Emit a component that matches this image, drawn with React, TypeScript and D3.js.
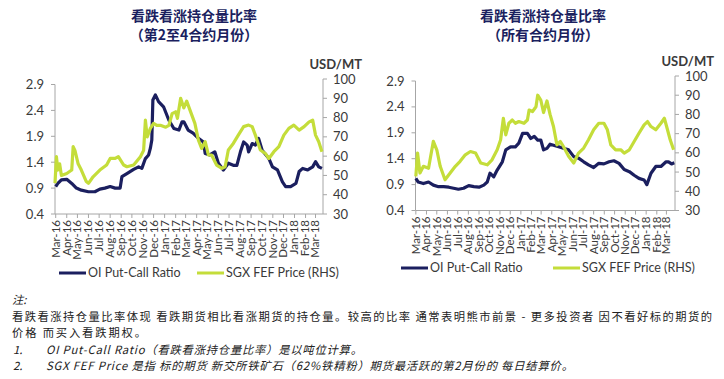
import React from "react";
import * as d3 from "d3";

// ---------- data ----------
const monthLabels = [
  "Mar-16","Apr-16","May-16","Jun-16","Jul-16","Aug-16","Sep-16","Oct-16","Nov-16","Dec-16",
  "Jan-17","Feb-17","Mar-17","Apr-17","May-17","Jun-17","Jul-17","Aug-17","Sep-17","Oct-17",
  "Nov-17","Dec-17","Jan-18","Feb-18","Mar-18",
];
const leftTicks = [0.4, 0.9, 1.4, 1.9, 2.4, 2.9];
const rightTicks = [30, 40, 50, 60, 70, 80, 90, 100];

const titleMain = "看跌看涨持仓量比率";
const titleSubLeft = "（第2至4合约月份）";
const titleSubRight = "（所有合约月份）";
const seriesNames = ["OI Put-Call Ratio", "SGX FEF Price (RHS)"];

// OI put-call ratio, 2nd-4th contract months
const pcrNear: [string, number][] = [
  ["2016-03-01",0.93],["2016-03-07",0.99],["2016-03-17",1.06],["2016-04-01",1.07],["2016-04-15",0.99],
  ["2016-04-28",0.9],["2016-05-12",0.86],["2016-06-01",0.83],["2016-06-19",0.83],["2016-07-03",0.88],
  ["2016-07-17",0.9],["2016-08-01",0.93],["2016-08-15",0.9],["2016-08-29",0.9],["2016-09-03",1.12],
  ["2016-09-17",1.18],["2016-10-06",1.26],["2016-10-20",1.31],["2016-10-29",1.28],["2016-11-08",1.47],
  ["2016-11-17",1.54],["2016-11-22",1.67],["2016-11-26",1.83],["2016-11-29",2.6],["2016-12-06",2.7],
  ["2016-12-15",2.57],["2016-12-29",2.47],["2017-01-13",2.21],["2017-01-27",2.05],["2017-02-10",2.02],
  ["2017-02-19",2.18],["2017-02-24",2.18],["2017-03-08",2.02],["2017-03-22",1.96],["2017-04-06",1.86],
  ["2017-04-20",1.79],["2017-04-25",1.57],["2017-05-08",1.54],["2017-05-22",1.6],["2017-06-01",1.38],
  ["2017-06-15",1.25],["2017-06-29",1.38],["2017-07-13",1.34],["2017-07-23",1.34],["2017-08-02",1.6],
  ["2017-08-11",1.79],["2017-08-21",1.73],["2017-08-25",1.6],["2017-09-04",1.76],["2017-09-13",1.73],
  ["2017-09-22",1.86],["2017-10-02",1.63],["2017-10-21",1.47],["2017-10-31",1.31],["2017-11-14",1.25],
  ["2017-11-28",1.02],["2017-12-07",0.93],["2017-12-21",0.93],["2018-01-05",0.99],["2018-01-14",1.22],
  ["2018-01-24",1.28],["2018-02-07",1.25],["2018-02-21",1.31],["2018-03-01",1.41],["2018-03-10",1.31],
  ["2018-03-19",1.28],
];

// SGX FEF price (left panel)
const feeNear: [string, number][] = [
  ["2016-02-28",46],["2016-03-03",59.7],["2016-03-07",52.8],["2016-03-12",56],["2016-03-17",50],
  ["2016-04-01",51],["2016-04-15",52.8],["2016-04-19",64.9],["2016-04-24",63],["2016-05-03",56],
  ["2016-05-12",52.8],["2016-05-26",46.8],["2016-06-01",45.9],["2016-06-14",49.3],["2016-07-03",52.8],
  ["2016-07-22",55.4],["2016-08-01",58.8],["2016-08-15",58.8],["2016-08-24",59.7],["2016-09-08",55.4],
  ["2016-09-17",54.5],["2016-10-06",55.4],["2016-10-25",59.7],["2016-11-03",63],["2016-11-08",78.7],
  ["2016-11-13",70],["2016-11-22",74.4],["2016-12-01",77],["2016-12-10",76],["2016-12-20",76],
  ["2017-01-04",75],["2017-01-13",76],["2017-01-22",82],["2017-02-01",83],["2017-02-06",79.6],
  ["2017-02-15",90],["2017-02-24",85],["2017-03-04",88.5],["2017-03-13",84],["2017-03-27",77],
  ["2017-04-06",68.3],["2017-04-15",64],["2017-04-25",67.5],["2017-05-04",60.6],["2017-05-13",60.6],
  ["2017-05-27",55.4],["2017-06-11",53.7],["2017-06-20",54.5],["2017-06-29",63.2],["2017-07-13",66.6],
  ["2017-07-27",70.9],["2017-08-11",75.3],["2017-08-25",76.1],["2017-09-04",75.3],["2017-09-13",70.9],
  ["2017-09-27",63.2],["2017-10-11",61.4],["2017-10-21",58.8],["2017-11-04",62.3],["2017-11-18",64.9],
  ["2017-12-02",70.9],["2017-12-16",74.4],["2017-12-30",76.1],["2018-01-14",73.5],["2018-01-28",75.3],
  ["2018-02-11",77.8],["2018-02-21",78.7],["2018-03-01",70.9],["2018-03-10",67.5],["2018-03-19",62.3],
];

// OI put-call ratio, all contract months
const pcrAll: [string, number][] = [
  ["2016-03-01",1.02],["2016-03-08",0.95],["2016-03-23",0.92],["2016-04-07",0.95],["2016-04-21",0.89],
  ["2016-05-06",0.86],["2016-05-21",0.86],["2016-06-05",0.85],["2016-06-19",0.83],["2016-07-03",0.81],
  ["2016-07-18",0.83],["2016-08-02",0.88],["2016-08-17",0.86],["2016-09-01",0.85],["2016-09-15",0.89],
  ["2016-09-25",0.95],["2016-10-03",1.12],["2016-10-14",1.05],["2016-10-24",1.18],["2016-11-08",1.34],
  ["2016-11-18",1.57],["2016-12-02",1.63],["2016-12-16",1.63],["2016-12-26",1.7],["2017-01-06",1.89],
  ["2017-01-20",1.89],["2017-01-30",1.79],["2017-02-09",1.83],["2017-02-19",1.76],["2017-02-28",1.76],
  ["2017-03-08",1.57],["2017-03-18",1.6],["2017-03-27",1.68],["2017-04-06",1.66],["2017-04-21",1.63],
  ["2017-05-05",1.6],["2017-05-20",1.57],["2017-06-04",1.44],["2017-06-18",1.41],["2017-07-03",1.34],
  ["2017-07-17",1.28],["2017-08-01",1.23],["2017-08-16",1.31],["2017-08-31",1.3],["2017-09-15",1.34],
  ["2017-09-29",1.36],["2017-10-14",1.31],["2017-10-29",1.19],["2017-11-13",1.15],["2017-11-27",1.08],
  ["2017-12-11",1.02],["2017-12-26",0.99],["2018-01-03",0.9],["2018-01-15",1.12],["2018-01-29",1.25],
  ["2018-02-13",1.25],["2018-02-28",1.34],["2018-03-07",1.34],["2018-03-16",1.3],["2018-03-24",1.32],
];

// SGX FEF price (right panel)
const feeAll: [string, number][] = [
  ["2016-03-01",47.8],["2016-03-06",59.9],["2016-03-13",49.5],["2016-03-23",53],["2016-04-07",52],
  ["2016-04-21",66],["2016-05-01",61.6],["2016-05-11",53],["2016-05-25",46],["2016-06-09",49.5],
  ["2016-06-24",53],["2016-07-08",55.6],["2016-07-23",59],["2016-08-07",60.7],["2016-08-22",59.9],
  ["2016-09-06",54.7],["2016-09-25",53.8],["2016-10-09",56.4],["2016-10-24",61.6],["2016-11-03",66.8],
  ["2016-11-11",78],["2016-11-18",69.4],["2016-11-27",75.4],["2016-12-07",77.1],["2016-12-16",75.4],
  ["2016-12-26",76.3],["2017-01-10",75.4],["2017-01-20",77.1],["2017-01-25",82.3],["2017-02-04",81.5],
  ["2017-02-14",84],["2017-02-19",90],["2017-02-28",87.5],["2017-03-08",81],["2017-03-18",87],
  ["2017-03-27",80],["2017-04-06",73.7],["2017-04-16",64.2],["2017-04-26",65.9],["2017-05-05",63.3],
  ["2017-05-20",58.2],["2017-06-04",54.7],["2017-06-18",59.9],["2017-07-03",62.5],["2017-07-17",66.8],
  ["2017-08-01",72],["2017-08-16",75.4],["2017-08-31",75.4],["2017-09-10",72],["2017-09-20",64.2],
  ["2017-10-04",61.6],["2017-10-19",61.6],["2017-10-29",59.9],["2017-11-13",61.6],["2017-11-27",65.9],
  ["2017-12-11",70.2],["2017-12-26",74.6],["2018-01-05",76.3],["2018-01-15",73.7],["2018-01-29",72],
  ["2018-02-13",75.4],["2018-02-23",78],["2018-03-03",72.8],["2018-03-12",66.8],["2018-03-22",61.6],
];

const noteHead = "注:";
const noteLines = [
  "看跌看涨持仓量比率体现 看跌期货相比看涨期货的持仓量。较高的比率 通常表明熊市前景 - 更多投资者 因不看好标的期货的",
  "价格 而买入看跌期权。",
];
const noteItems = [
  ["1.", "OI Put-Call Ratio（看跌看涨持仓量比率）是以吨位计算。"],
  ["2.", "SGX FEF Price 是指 标的期货 新交所铁矿石（62%铁精粉）期货最活跃的第2月份的 每日结算价。"],
];

// ---------- style ----------
const NAVY = "#1b1f5f";
const GREEN = "#c4dd3a";
const AXIS = "#a6a6a6";
const TXT = "#3a3a3a";
const LAT = "Lato, 'Liberation Sans', sans-serif";
const CJK = "'Noto Sans CJK SC', sans-serif";

const parse = d3.timeParse("%Y-%m-%d");
const parseMonth = d3.timeParse("%b-%y");

type Cfg = {
  xDomain: [string, string];
  xRange: [number, number];
  yL: [number, number];
  yR: [number, number];
  titleX: number;
  legendY: number;
  legendX: [number, number];
  subtitle: string;
  pcr: [string, number][];
  fee: [string, number][];
};

const panels: Cfg[] = [
  {
    xDomain: ["2016-02-28", "2018-03-22"],
    xRange: [55, 323],
    yL: [214, 84.5],
    yR: [214, 79],
    titleX: 194,
    legendY: 273,
    legendX: [59, 197],
    subtitle: titleSubLeft,
    pcr: pcrNear,
    fee: feeNear,
  },
  {
    xDomain: ["2016-02-29", "2018-03-26"],
    xRange: [415.5, 675],
    yL: [210.5, 81],
    yR: [210.5, 76],
    titleX: 543,
    legendY: 268,
    legendX: [401, 553],
    subtitle: titleSubRight,
    pcr: pcrAll,
    fee: feeAll,
  },
];

function Panel({ cfg }: { cfg: Cfg }) {
  const x = d3.scaleTime().domain(cfg.xDomain.map((d) => parse(d) as Date)).range(cfg.xRange);
  const yL = d3.scaleLinear().domain([0.4, 2.9]).range(cfg.yL);
  const yR = d3.scaleLinear().domain([30, 100]).range(cfg.yR);
  const lineL = d3.line<[string, number]>().x((d) => x(parse(d[0]) as Date)).y((d) => yL(d[1]));
  const lineR = d3.line<[string, number]>().x((d) => x(parse(d[0]) as Date)).y((d) => yR(d[1]));
  const [x0, x1] = cfg.xRange;
  const yb = cfg.yL[0];
  const months = monthLabels.map((m) => ({ label: m, date: parseMonth(m) as Date }));
  return (
    <g>
      <text x={cfg.titleX} y={21} textAnchor="middle" fontFamily={CJK} fontWeight={700} fontSize={14} fill={NAVY}>
        {titleMain}
      </text>
      <text x={cfg.titleX} y={40} textAnchor="middle" fontFamily={CJK} fontWeight={700} fontSize={14} fill={NAVY}>
        {cfg.subtitle}
      </text>
      {/* axes */}
      <line x1={x0} x2={x0} y1={yb} y2={yL(2.9)} stroke={AXIS} />
      <line x1={x1} x2={x1} y1={yb} y2={yR(100)} stroke={AXIS} />
      <line x1={x0} x2={x1} y1={yb} y2={yb} stroke={AXIS} />
      {leftTicks.map((t) => (
        <g key={"l" + t}>
          <line x1={x0 - 4} x2={x0} y1={yL(t)} y2={yL(t)} stroke={AXIS} />
          <text x={x0 - 11} y={yL(t)} dy="0.35em" textAnchor="end" fontFamily={LAT} fontSize={13} fill={TXT}>
            {t.toFixed(1)}
          </text>
        </g>
      ))}
      {rightTicks.map((t) => (
        <g key={"r" + t}>
          <line x1={x1} x2={x1 + 4} y1={yR(t)} y2={yR(t)} stroke={AXIS} />
          <text x={x1 + 10} y={yR(t)} dy="0.35em" textAnchor="start" fontFamily={LAT} fontSize={13} fill={TXT}>
            {t}
          </text>
        </g>
      ))}
      <text x={x1 + 39} y={yR(100) - 10} textAnchor="end" fontFamily={LAT} fontWeight={700} fontSize={13} fill={TXT}>
        USD/MT
      </text>
      {months.map((m) => (
        <g key={m.label}>
          <line x1={x(m.date)} x2={x(m.date)} y1={yb} y2={yb + 4} stroke={AXIS} />
          <text
            transform={`translate(${x(m.date)},${yb + 6}) rotate(-90)`}
            dy="0.34em"
            textAnchor="end"
            fontFamily={LAT}
            fontSize={11.5}
            fill={TXT}
          >
            {m.label}
          </text>
        </g>
      ))}
      {/* series */}
      <path d={lineL(cfg.pcr) || ""} fill="none" stroke={NAVY} strokeWidth={3.2} strokeLinejoin="round" />
      <path d={lineR(cfg.fee) || ""} fill="none" stroke={GREEN} strokeWidth={3.2} strokeLinejoin="round" />
      {/* legend */}
      <line x1={cfg.legendX[0]} x2={cfg.legendX[0] + 27} y1={cfg.legendY} y2={cfg.legendY} stroke={NAVY} strokeWidth={3} />
      <text x={cfg.legendX[0] + 29} y={cfg.legendY} dy="0.35em" fontFamily={LAT} fontSize={12.5} fill={TXT}>
        {seriesNames[0]}
      </text>
      <line x1={cfg.legendX[1]} x2={cfg.legendX[1] + 27} y1={cfg.legendY} y2={cfg.legendY} stroke={GREEN} strokeWidth={3} />
      <text x={cfg.legendX[1] + 29} y={cfg.legendY} dy="0.35em" fontFamily={LAT} fontSize={12.5} fill={TXT}>
        {seriesNames[1]}
      </text>
    </g>
  );
}

export default function App() {
  const lh = 16.6;
  const y0 = 304;
  return (
    <svg
      width={724}
      height={379}
      viewBox="0 0 724 379"
      style={{ position: "absolute", left: 0, top: 0, background: "#fff" }}
    >
      <rect width={724} height={379} fill="#fff" />
      {panels.map((p, i) => (
        <Panel key={i} cfg={p} />
      ))}
      <g fontFamily={CJK} fontSize={11.3} fill="#222">
        <text x={12} y={y0} fontStyle="italic">{noteHead}</text>
        <text x={12} y={y0 + lh} textLength={700} lengthAdjust="spacing">{noteLines[0]}</text>
        <text x={12} y={y0 + 2 * lh} textLength={134} lengthAdjust="spacing">{noteLines[1]}</text>
        {noteItems.map((it, i) => (
          <g key={i} fontStyle="italic">
            <text x={13} y={y0 + (3 + i) * lh}>{it[0]}</text>
            <text x={46} y={y0 + (3 + i) * lh} textLength={i === 0 ? 316 : 527} lengthAdjust="spacing">
              {it[1]}
            </text>
          </g>
        ))}
      </g>
    </svg>
  );
}
